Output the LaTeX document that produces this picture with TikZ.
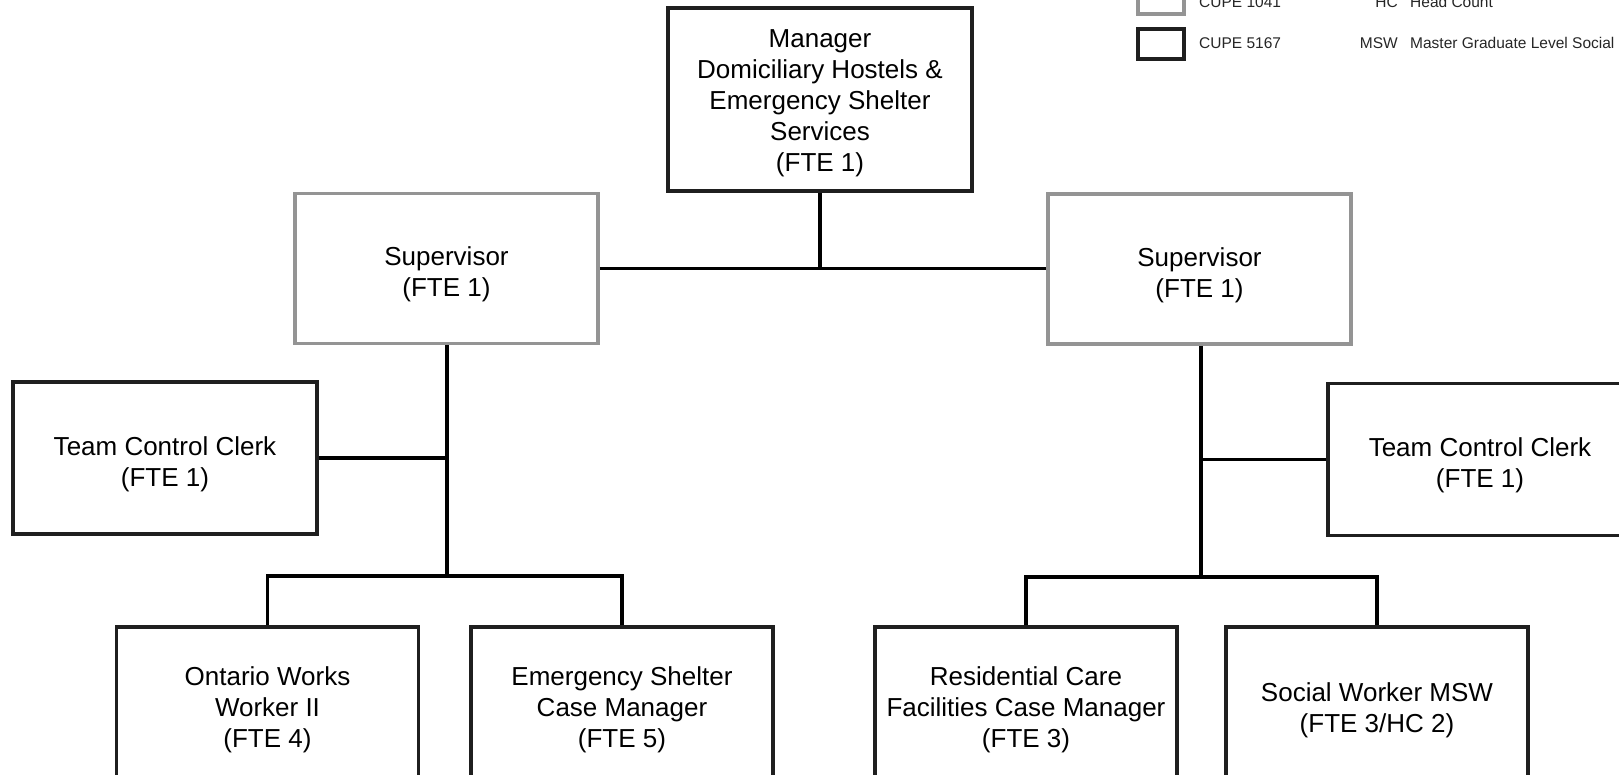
\documentclass[tikz,border=0pt]{standalone}
\usepackage{fontspec}
\setmainfont{Liberation Sans}
\begin{document}
\begin{tikzpicture}[x=1pt,y=-1pt,
  boxk/.style={draw=black!88, line width=3.6pt, fill=white, minimum width=302pt, inner sep=0pt},
  boxg/.style={boxk, draw=black!42},
  txt/.style={align=center, inner sep=0pt, font=\fontsize{26}{31}\selectfont},
  conn/.style={line width=3.4pt, draw=black},
  leg/.style={font=\fontsize{15.5}{18}\selectfont, inner sep=0pt, text=black!85},
  legbox/.style={line width=3.4pt, minimum width=46pt, minimum height=30pt, inner sep=0pt, fill=white}]
\useasboundingbox (0,0) rectangle (1619,775);
\begin{scope}
\clip (0,0) rectangle (1619,775);
% boxes
\node[boxk, minimum width=304pt, minimum height=183pt] (mgr) at (820,99.5) {};
\node[boxg, minimum width=303pt, minimum height=150pt] (supL) at (446.5,268.5) {};
\node[boxg, minimum width=303pt, minimum height=150pt] (supR) at (1199.5,269) {};
\node[boxk, minimum width=304pt, minimum height=152pt] (clkL) at (165,458) {};
\node[boxk, minimum width=304pt, minimum height=152pt] (clkR) at (1480,459.5) {};
\node[boxk, minimum height=162pt] (ont) at (267.5,708) {};
\node[boxk, minimum height=162pt] (ems) at (622,708) {};
\node[boxk, minimum height=162pt] (res) at (1026,708) {};
\node[boxk, minimum height=162pt] (sw) at (1377,708) {};
% texts
\node[txt] (mgrT) at ([yshift=-4pt]mgr.center) {Manager\\Domiciliary Hostels \&\\Emergency Shelter\\Services\\(FTE 1)};
\node[txt] (supLT) at ([yshift=-6pt]supL.center) {Supervisor\\(FTE 1)};
\node[txt] (supRT) at ([yshift=-6pt]supR.center) {Supervisor\\(FTE 1)};
\node[txt] (clkLT) at ([yshift=-6pt]clkL.center) {Team Control Clerk\\(FTE 1)};
\node[txt] (clkRT) at ([yshift=-6pt]clkR.center) {Team Control Clerk\\(FTE 1)};
\node[txt] (ontT) at ([yshift=-1.5pt]ont.center) {Ontario Works\\Worker II\\(FTE 4)};
\node[txt] (emsT) at ([yshift=-1.5pt]ems.center) {Emergency Shelter\\Case Manager\\(FTE 5)};
\node[txt] (resT) at ([yshift=-2pt]res.center) {Residential Care\\Facilities Case Manager\\(FTE 3)};
\node[txt] (swT) at ([yshift=-2pt]sw.center) {Social Worker MSW\\(FTE 3/HC 2)};
% connectors
\coordinate (barL) at (447,576);
\coordinate (barR) at (1201,577);
\draw[conn] (mgr.south) -- (mgr.south |- supL.east);
\draw[conn] (supL.east) -- (supL.east -| supR.west);
\draw[conn] (supL.south -| barL) -- (barL);
\draw[conn] (clkL.east) -- (clkL.east -| barL);
\draw[conn] (ont.north) -- (ont.north |- barL) -- (ems.north |- barL) -- (ems.north);
\draw[conn] (supR.south -| barR) -- (barR);
\draw[conn] (clkR.west) -- (clkR.west -| barR);
\draw[conn] (res.north) -- (res.north |- barR) -- (sw.north |- barR) -- (sw.north);
% legend
\node[legbox, draw=black!42] (lg1) at (1161,-1) {};
\node[legbox, draw=black!88] (lg2) at (1161,44) {};
\node[leg, anchor=base west] (lt1) at (1199,8) {CUPE 1041};
\node[leg, anchor=base west] (lt2) at (1199,49) {CUPE 5167};
\node[leg, anchor=base east] (la1) at (1398,8) {HC};
\node[leg, anchor=base west] (ld1) at (1410,8) {Head Count};
\node[leg, anchor=base east] (la2) at (1398,49) {MSW};
\node[leg, anchor=base west] (ld2) at (1410,49) {Master Graduate Level Social};
\end{scope}
\end{tikzpicture}
\end{document}
